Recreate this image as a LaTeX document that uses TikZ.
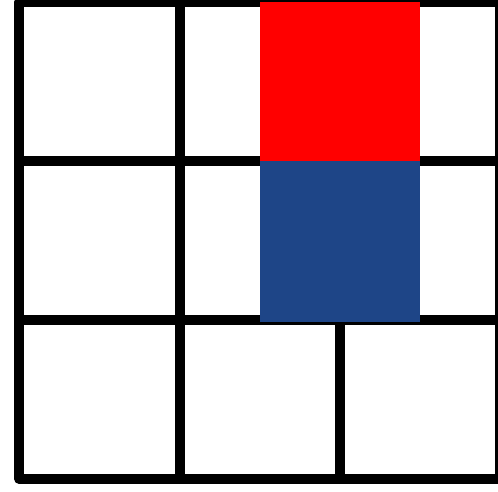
\documentclass[tikz,border=0pt]{standalone}
\usepackage{tikz}
\definecolor{gridblue}{RGB}{30,69,135}
\tikzset{gridline/.style={line width=9.5pt, black, line join=round}}

\begin{document}
\begin{tikzpicture}[x=1pt, y=-1pt]
      \useasboundingbox (0,0) rectangle (498,491);
      % Grid lines
      \draw[gridline] (19,2) rectangle (500,479);
      \draw[gridline] (180,2) -- (180,479);
      \draw[gridline] (19,161) -- (500,161);
      \draw[gridline] (19,320) -- (500,320);
      \draw[gridline] (340,320) -- (340,479);
      
      % Coloured cells
      \fill[red] (260,2) rectangle (420,161);
      \fill[gridblue] (260,161) rectangle (420,322);
    \end{tikzpicture}
\end{document}
